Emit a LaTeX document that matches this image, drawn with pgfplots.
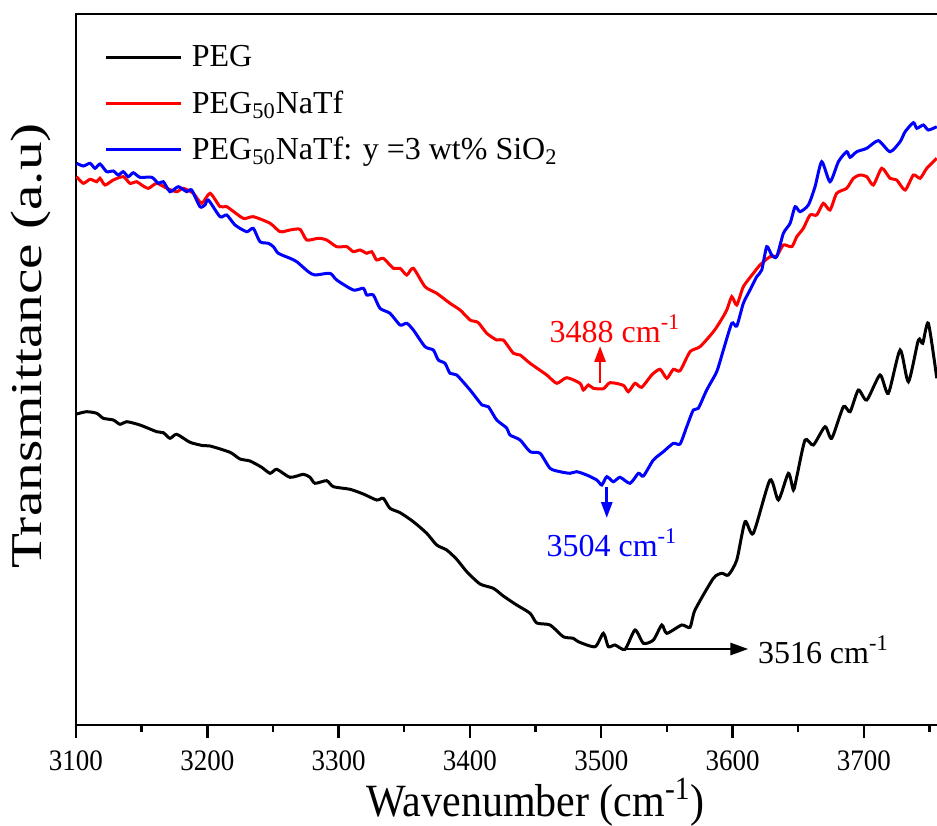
\documentclass[border=0pt]{standalone}
\usepackage{fontspec}
\setmainfont{Liberation Serif}
\usepackage{pgfplots}
\usepackage{graphicx}
\pgfplotsset{compat=1.18}
\usetikzlibrary{arrows.meta}

\pgfplotstableread{
w y
3100.5 411
3108.1 413.3
3115.8 411.7
3120.8 406.7
3128.4 405
3133.5 400.7
3138.6 403.3
3148.7 400
3161.5 393.3
3166.5 392.3
3171.6 386.7
3176.7 390.7
3186.8 382.7
3197.0 379.3
3202.1 379
3217.3 372.7
3224.9 366
3232.5 364
3241.4 357.7
3247.8 351.7
3252.9 355.7
3263.0 347.7
3273.1 350.7
3278.2 347.7
3282.0 341.7
3290.9 344.3
3296.0 338.3
3308.7 335.7
3318.8 331
3329.0 325
3334.0 326.7
3339.1 316.7
3346.8 312.3
3356.9 303.3
3367.1 291.7
3374.7 280
3382.3 275
3389.9 265.7
3397.6 253.3
3407.7 241
3417.8 236.7
3425.4 229
3435.6 220
3445.8 211.7
3450.9 202
3461.0 200
3471.1 188.3
3478.7 186.7
3482.5 183.3
3495.3 178.3
3501.6 191.7
3505.4 178.3
3510.5 180
3518.1 175.7
3525.7 195
3532.1 181.7
3539.7 185
3546.1 200
3549.9 191.7
3561.3 200
3567.6 197.7
3571.4 215
3585.4 246.7
3591.8 251.7
3596.8 250
3603.2 265
3609.5 303.3
3615.8 291.7
3628.5 345
3634.9 325
3642.5 351.7
3646.3 335
3648.9 348.3
3655.2 385
3661.5 380
3670.4 398.3
3675.5 386.7
3684.4 418.3
3689.5 413.3
3695.8 435
3702.2 425
3712.3 450
3718.6 431.7
3727.6 475
3733.9 443.3
3741.5 485
3744.8 481.7
3749.1 501.7
3755.5 446.7
}\peg

\pgfplotstableread{
w y
3100.5 648.3
3105.6 641.7
3110.7 645.7
3115.8 643.3
3118.3 646.7
3122.1 640
3128.4 645
3136.0 648.3
3141.1 641.7
3146.2 643.3
3150.0 640
3155.1 636.7
3161.5 641.7
3169.1 636.7
3176.7 633.3
3181.7 636.7
3189.3 631.7
3195.7 621.7
3202.1 631.7
3209.7 618.3
3214.8 618.3
3227.4 606.7
3235.0 608.3
3247.8 601.7
3255.4 593.3
3263.0 595
3270.6 595.7
3275.7 585
3284.5 586.7
3290.9 585
3298.5 578.3
3306.2 578.3
3311.2 573.3
3316.3 575
3321.4 571.7
3325.2 573.3
3329.0 565
3334.0 566.7
3341.7 556.7
3346.8 556.7
3351.9 550
3356.9 556.7
3365.8 538.3
3374.7 531.7
3384.8 521.7
3392.5 515
3400.1 505
3406.2 502.5
3412.8 491.7
3420.4 485
3425.4 485
3433.1 471.7
3438.2 470
3445.8 461.7
3458.5 450
3466.1 441.7
3473.7 447.3
3483.8 441.7
3486.4 435
3490.2 440
3494.0 436.7
3501.6 436.3
3506.7 442.3
3516.8 439.7
3520.6 433.3
3525.7 441.7
3530.8 437.7
3538.4 450
3544.8 455.7
3549.9 446.7
3554.9 455.7
3560.0 454.3
3567.6 473.3
3575.2 478.3
3585.4 493.3
3590.5 503.3
3595.6 515
3599.4 528.3
3603.2 520
3608.2 538.3
3615.8 551.7
3620.9 560
3628.5 568.3
3633.6 569
3638.7 580
3645.1 578.3
3648.9 588.3
3653.9 596.7
3659.0 610
3664.1 610
3669.1 621.7
3674.2 615
3679.3 631.7
3686.9 636.7
3692.0 646.7
3697.1 650
3702.2 648.3
3707.2 640
3713.6 656.7
3719.9 646.7
3725.0 645
3731.4 635
3737.7 650
3742.8 646.7
3747.9 656.7
3755.5 666.7
}\pegnatf

\pgfplotstableread{
w y
3100.5 661.7
3105.6 659
3110.7 661.7
3114.5 656.7
3118.3 661
3123.4 653.3
3128.4 654
3132.2 650
3136.0 653.3
3139.8 648.3
3143.6 652.3
3148.7 647.7
3157.7 647.7
3162.7 641.7
3166.5 643.3
3171.6 633.3
3177.9 638.3
3184.3 633.3
3188.1 635
3194.4 618.3
3198.2 620
3200.8 625
3209.7 608.3
3214.8 610
3221.1 600
3230.0 593.3
3235.0 596.7
3240.1 583.3
3246.5 581.7
3250.3 578.3
3254.1 571.7
3263.0 566.7
3268.1 563.3
3276.9 553.3
3282.0 550
3293.4 551.7
3298.5 545
3311.2 535
3318.8 536.7
3321.4 530
3326.4 530
3331.5 516.7
3339.1 511.7
3346.8 500
3351.9 501.7
3356.9 495
3365.8 478.3
3372.1 475
3375.9 465
3381.0 461.7
3384.8 451.7
3389.9 450
3400.1 435
3409.2 420
3414.0 418.3
3420.4 405
3428.0 397
3430.5 390
3438.2 385
3445.8 373.3
3453.4 371.7
3461.0 356.7
3468.6 353.3
3476.2 351.7
3481.3 353.3
3488.9 350
3496.6 345
3500.4 340
3504.2 348.3
3509.2 343.3
3514.3 347.7
3521.9 341.7
3528.3 351.7
3532.1 349
3539.7 365
3547.3 373.3
3554.9 381.7
3560.0 381
3565.1 398.3
3570.1 415
3573.9 416.7
3580.3 435
3587.9 453.3
3593.0 475
3599.4 501.7
3603.2 499
3608.2 521.7
3613.3 535
3618.4 548.3
3622.2 555
3626.0 578.3
3629.8 570
3633.6 568.3
3638.7 591.7
3643.8 601.7
3647.6 618.3
3651.4 613.3
3657.7 620
3662.8 638.3
3667.9 663.3
3674.2 643.3
3680.6 663.3
3686.9 673.3
3689.5 667.7
3694.6 673.3
3702.2 676.7
3711.0 684.3
3719.9 673.3
3727.6 683.3
3731.4 693.3
3737.7 702.3
3740.3 696.7
3745.3 700
3749.1 695
3755.5 698.3
}\pegsio

\begin{document}
\begin{tikzpicture}
\begin{axis}[
  scale only axis,
  width=459.6pt, height=355.5pt,
  xmin=3100, xmax=3800, ymin=100, ymax=811,
  xtick={3100,3200,3300,3400,3500,3600,3700},
  minor xtick={3150,3250,3350,3450,3550,3650,3750},
  ytick=\empty,
  xtick pos=left,
  tick align=outside,
  major tick length=6.5pt, minor tick length=3.5pt,
  every tick/.style={line width=1.2pt, black},
  axis line style={line width=1.3pt},
  /pgf/number format/assume math mode=true,
  /pgf/number format/1000 sep={},
  xticklabel={\scalebox{1}[1.1]{\pgfmathprintnumber{\tick}}},
  xticklabel style={font=\fontsize{13.5}{16}\selectfont, yshift=-3pt},
  xlabel={\scalebox{1}[1.1]{Wavenumber (cm\textsuperscript{-1})}},
  xlabel style={font=\fontsize{21}{25}\selectfont, at={(rel axis cs:0.5,-0.109)}, anchor=center},
  ylabel={\scalebox{1.3}[1]{Transmittance (a.u)}},
  ylabel style={font=\fontsize{22}{26}\selectfont, at={(rel axis cs:-0.049,0.533)}, anchor=center},
  legend style={draw=none, fill=none, at={(rel axis cs:0.031,0.962)}, anchor=north west,
    font=\fontsize{16}{19}\selectfont, row sep=6.5pt, inner sep=0pt},
  legend cell align=left,
  legend image code/.code={\draw[#1] (0pt,0pt) -- (37.5pt,0pt); \path (40pt,0pt);},
  every axis plot/.append style={smooth, tension=0.4},
]
\addplot[black, line width=1.5pt] table[x=w,y=y] {\peg};
\addlegendentry{PEG}
\addplot[red, line width=1.5pt] table[x=w,y=y] {\pegnatf};
\addlegendentry{PEG\textsubscript{50}NaTf}
\addplot[blue, line width=1.5pt] table[x=w,y=y] {\pegsio};
\addlegendentry{PEG\textsubscript{50}NaTf: y =3 wt\% SiO\textsubscript{2}}

\draw[red, line width=1.4pt, -{Triangle[length=8pt,width=5.5pt]}] (axis cs:3499.1,442) -- (axis cs:3499.1,479);
\node[red, font=\fontsize{16}{19}\selectfont] at (axis cs:3510.5,496) {3488 cm\textsuperscript{-1}};
\draw[blue, line width=1.4pt, -{Triangle[length=8pt,width=5.5pt]}] (axis cs:3504.2,338) -- (axis cs:3504.2,307);
\node[blue, font=\fontsize{16}{19}\selectfont] at (axis cs:3508.2,282) {3504 cm\textsuperscript{-1}};
\draw[black, line width=1.4pt, -{Triangle[length=9pt,width=6pt]}] (axis cs:3518.1,176) -- (axis cs:3612,176);
\node[black, font=\fontsize{16}{19}\selectfont, anchor=west] at (axis cs:3614,175) {3516 cm\textsuperscript{-1}};
\end{axis}
\pgfresetboundingbox
\path[use as bounding box] (-38pt,-50pt) rectangle (430.5pt,362.5pt);
\end{tikzpicture}
\end{document}
